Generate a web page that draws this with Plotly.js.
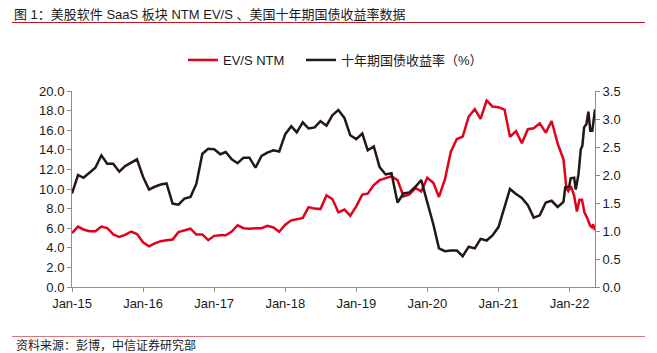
<!DOCTYPE html>
<html><head><meta charset="utf-8">
<script src="https://cdn.plot.ly/plotly-3.0.1.min.js"></script>
<style>html,body{margin:0;padding:0;background:#fff}#chart{width:657px;height:353px}</style>
</head><body><div id="chart"></div>
<script>
// ---- data ----
const titleText = '图 1：美股软件 SaaS 板块 NTM EV/S 、美国十年期国债收益率数据';
const sourceText = '资料来源：彭博，中信证券研究部';
const seriesNames = ['EV/S NTM', '十年期国债收益率（%）'];
const xTickVals = ['2015-01-01','2016-01-01','2017-01-01','2018-01-01','2019-01-01','2020-01-01','2021-01-01','2022-01-01'];
const xTickText = ['Jan-15','Jan-16','Jan-17','Jan-18','Jan-19','Jan-20','Jan-21','Jan-22'];

// monthly observations Jan-2015 .. Dec-2021
const evsMonthly = [
  5.50, 6.17, 5.87, 5.70, 5.70, 6.17, 6.02, 5.37, 5.10, 5.32, 5.66, 5.40,
  4.56, 4.15, 4.45, 4.68, 4.76, 4.84, 5.60, 5.78, 5.95, 5.35, 5.36, 4.78,
  5.22, 5.28, 5.28, 5.66, 6.30, 6.00, 5.95, 5.99, 6.00, 6.24, 6.08, 5.64,
  6.35, 6.80, 6.90, 7.05, 8.15, 8.00, 7.95, 9.35, 8.95, 7.62, 7.90, 7.28,
  8.23, 9.43, 9.53, 10.40, 10.90, 11.10, 11.30, 10.90, 9.25, 9.45, 10.10, 9.75,
  11.15, 10.63, 9.19, 11.00, 13.80, 15.10, 15.35, 17.40, 18.15, 17.15, 19.03, 18.42,
  18.35, 18.10, 15.32, 15.90, 14.67, 16.10, 16.20, 16.70, 15.75, 16.94, 14.65, 13.00
];
const ust10yMonthly = [
  1.67, 2.00, 1.95, 2.04, 2.13, 2.35, 2.20, 2.20, 2.06, 2.16, 2.22, 2.28,
  1.97, 1.74, 1.79, 1.83, 1.85, 1.49, 1.47, 1.58, 1.61, 1.84, 2.38, 2.47,
  2.46, 2.37, 2.41, 2.28, 2.21, 2.31, 2.31, 2.13, 2.34, 2.40, 2.44, 2.42,
  2.73, 2.87, 2.76, 2.94, 2.83, 2.85, 2.96, 2.88, 3.07, 3.16, 3.02, 2.71,
  2.64, 2.74, 2.44, 2.51, 2.14, 2.01, 2.03, 1.51, 1.67, 1.69, 1.79, 1.91,
  1.51, 1.12, 0.69, 0.64, 0.65, 0.65, 0.55, 0.72, 0.69, 0.86, 0.83, 0.92,
  1.07, 1.43, 1.75, 1.66, 1.59, 1.46, 1.24, 1.28, 1.51, 1.54, 1.43, 1.52
];
// higher-frequency tail, Dec-2021 .. May-2022
const evsTailDates = ['2021-12-16','2021-12-26','2022-01-08','2022-01-25','2022-02-08','2022-02-21','2022-03-06','2022-03-19','2022-04-03','2022-04-16','2022-04-26','2022-05-02','2022-05-12'];
const evsTail = [10.1, 9.8, 10.3, 9.3, 7.7, 8.9, 8.9, 7.6, 7.0, 6.3, 6.1, 6.4, 5.8];
const ustTailDates = ['2021-12-10','2021-12-30','2022-01-07','2022-01-25','2022-02-02','2022-02-16','2022-02-28','2022-03-08','2022-03-17','2022-03-29','2022-04-08','2022-04-18','2022-04-28','2022-05-12'];
const ustTail = [1.78, 1.79, 1.94, 1.95, 1.74, 2.01, 2.46, 2.52, 2.85, 2.91, 3.13, 2.79, 2.79, 3.17];

// ---- build ----
const monthDates = [];
for (let y = 2015; y <= 2021; y++) for (let m = 1; m <= 12; m++) monthDates.push(y + '-' + String(m).padStart(2, '0') + '-01');

const W = 657, H = 353, L = 72, R = 62, T = 91, B = 66;
const PW = W - L - R, PH = H - T - B;
const px2x = p => (p - L) / PW;
const py2y = p => (H - B - p) / PH;

const FONT = 'Liberation Sans, Arial, Noto Sans CJK SC, sans-serif';
const RED = '#e3001b', BLACK = '#231815', AX = '#8c8c8c', TXT = '#1a1a1a';

const traces = [
  {x: monthDates.concat(evsTailDates), y: evsMonthly.concat(evsTail), name: seriesNames[0], type: 'scatter', mode: 'lines',
   line: {color: RED, width: 2.5}, yaxis: 'y', legend: 'legend'},
  {x: monthDates.concat(ustTailDates), y: ust10yMonthly.concat(ustTail), name: seriesNames[1], type: 'scatter', mode: 'lines',
   line: {color: BLACK, width: 2.5}, yaxis: 'y2', legend: 'legend2'}
];

const axisCommon = {showgrid: false, zeroline: false, showline: true, linecolor: AX, linewidth: 1,
  ticks: 'outside', ticklen: 4, tickcolor: AX, tickwidth: 1, tickfont: {family: FONT, size: 13, color: TXT}, fixedrange: true};

const layout = {
  width: W, height: H, margin: {l: L, r: R, t: T, b: B, pad: 0},
  paper_bgcolor: '#fff', plot_bgcolor: '#fff',
  font: {family: FONT, size: 13, color: TXT},
  title: {text: titleText, x: 14 / W, xanchor: 'left', xref: 'container', y: 1 - 14 / H, yanchor: 'middle', yref: 'container',
          font: {family: FONT, size: 13, color: TXT}},
  xaxis: Object.assign({}, axisCommon, {type: 'date', range: ['2015-01-01', '2022-05-12'], tickvals: xTickVals, ticktext: xTickText}),
  yaxis: Object.assign({}, axisCommon, {range: [0, 20], dtick: 2, tick0: 0, tickformat: '.1f'}),
  yaxis2: Object.assign({}, axisCommon, {range: [0, 3.5], dtick: 0.5, tick0: 0, tickformat: '.1f', overlaying: 'y', side: 'right', anchor: 'x'}),
  showlegend: true,
  legend: {orientation: 'h', x: px2x(183), xanchor: 'left', y: py2y(60), yanchor: 'middle', bgcolor: 'rgba(0,0,0,0)',
           font: {family: FONT, size: 13, color: TXT}, itemwidth: 30},
  legend2: {orientation: 'h', x: px2x(301), xanchor: 'left', y: py2y(60), yanchor: 'middle', bgcolor: 'rgba(0,0,0,0)',
           font: {family: FONT, size: 13, color: TXT}, itemwidth: 30},
  shapes: [
    {type: 'line', xref: 'paper', yref: 'paper', x0: px2x(12), x1: px2x(645), y0: py2y(22.5), y1: py2y(22.5), line: {color: '#c8161e', width: 1}},
    {type: 'line', xref: 'paper', yref: 'paper', x0: px2x(12), x1: px2x(645), y0: py2y(336.5), y1: py2y(336.5), line: {color: '#d9787c', width: 1}}
  ],
  annotations: [
    {text: sourceText, xref: 'paper', yref: 'paper', x: px2x(14), y: py2y(345), xanchor: 'left', yanchor: 'middle', showarrow: false,
     font: {family: FONT, size: 12, color: TXT}}
  ]
};

Plotly.newPlot('chart', traces, layout, {staticPlot: true, displayModeBar: false});
</script></body></html>
